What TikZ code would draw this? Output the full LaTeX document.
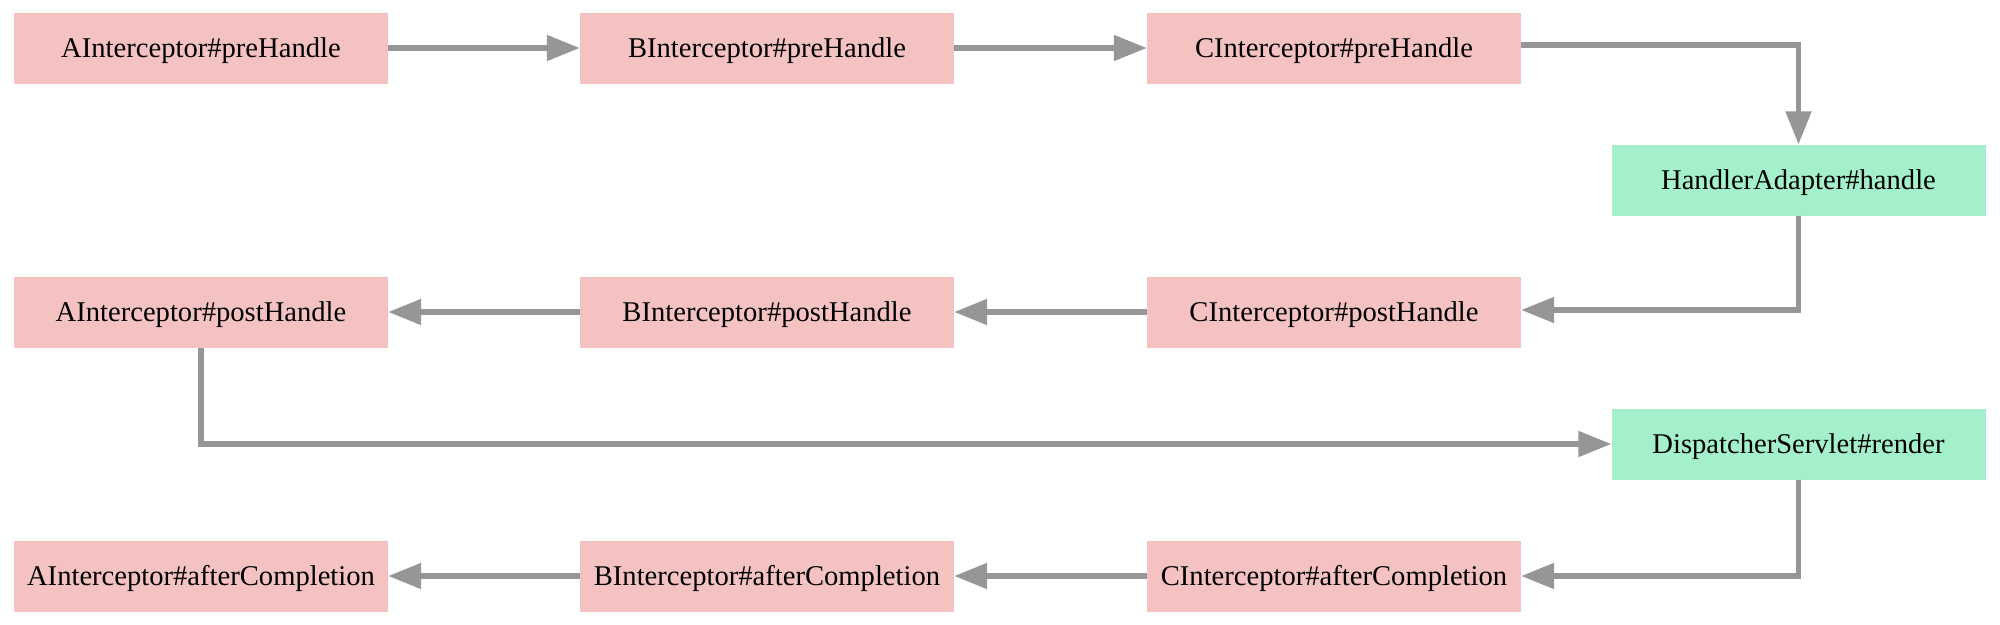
\documentclass[tikz,border=0pt]{standalone}
\usepackage{fontspec}
\setmainfont{Liberation Serif}
\usetikzlibrary{arrows.meta}
\definecolor{boxpink}{HTML}{F5C2C2}
\definecolor{boxgreen}{HTML}{A3F0CB}
\definecolor{edgegray}{HTML}{969696}
\tikzset{
  stepbox/.style={rectangle, fill=boxpink, draw=none, minimum width=374pt, minimum height=71pt, inner sep=0pt,
    text height=19pt, text depth=0pt, font=\fontsize{28.6}{34}\selectfont},
  corebox/.style={stepbox, fill=boxgreen},
  flow/.style={draw=edgegray, line width=5.2pt, -{Triangle[length=33pt,width=25pt]}}
}
\begin{document}
\begin{tikzpicture}[x=1pt,y=-1pt]
\useasboundingbox (0,0) rectangle (2000,624);
\node[stepbox] (apre) at (201,48) {AInterceptor\#preHandle};
\node[stepbox] (bpre) at (767,48) {BInterceptor\#preHandle};
\node[stepbox] (cpre) at (1334,48) {CInterceptor\#preHandle};
\node[corebox] (ha) at (1798.5,180) {HandlerAdapter\#handle};
\node[stepbox] (apost) at (201,312) {AInterceptor\#postHandle};
\node[stepbox] (bpost) at (767,312) {BInterceptor\#postHandle};
\node[stepbox] (cpost) at (1334,312) {CInterceptor\#postHandle};
\node[corebox] (disp) at (1798.5,444) {DispatcherServlet\#render};
\node[stepbox] (aafter) at (201,576) {AInterceptor\#afterCompletion};
\node[stepbox] (bafter) at (767,576) {BInterceptor\#afterCompletion};
\node[stepbox] (cafter) at (1334,576) {CInterceptor\#afterCompletion};

\draw[flow] (apre) -- (bpre);
\draw[flow] (bpre) -- (cpre);
\draw[flow] ([yshift=3pt]cpre.east) -| (ha.north);
\draw[flow] (ha.south) |- ([yshift=2pt]cpost.east);
\draw[flow] (cpost) -- (bpost);
\draw[flow] (bpost) -- (apost);
\draw[flow] (apost.south) |- (disp.west);
\draw[flow] (disp.south) |- (cafter.east);
\draw[flow] (cafter) -- (bafter);
\draw[flow] (bafter) -- (aafter);
\end{tikzpicture}
\end{document}
